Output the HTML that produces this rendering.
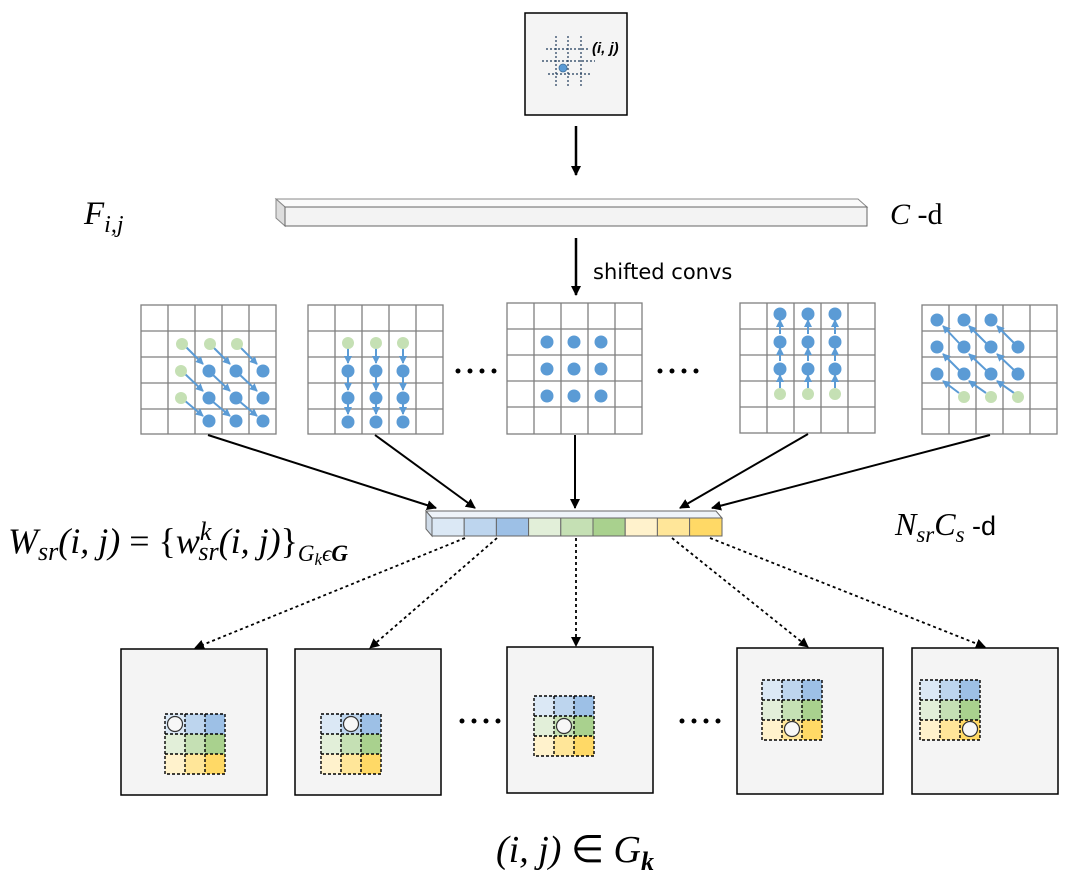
<!DOCTYPE html>
<html><head><meta charset="utf-8"><style>
html,body{margin:0;padding:0;background:#fff;}
svg{display:block;}
.m{font-family:"Liberation Serif",serif;font-style:italic;}
</style></head><body>
<svg width="1077" height="881" viewBox="0 0 1077 881" xmlns="http://www.w3.org/2000/svg">
<defs>
<marker id="ah" markerWidth="10" markerHeight="10" refX="9" refY="5" orient="auto" markerUnits="userSpaceOnUse"><path d="M0,0 L10,5 L0,10 z" fill="#000"/></marker>
<marker id="bh" markerWidth="8" markerHeight="8" refX="7" refY="4" orient="auto" markerUnits="userSpaceOnUse"><path d="M0,0 L8,4 L0,8 z" fill="#5b9bd5"/></marker>
</defs>

<!-- top box -->
<rect x="525" y="13" width="102" height="102" fill="#f4f4f4" stroke="#000" stroke-width="1.5"/>
<g stroke="#1f3b5a" stroke-width="1.2" stroke-dasharray="2,2">
<line x1="546" y1="49" x2="588" y2="49"/><line x1="542" y1="61" x2="595" y2="61"/><line x1="548" y1="74" x2="590" y2="74"/>
<line x1="556" y1="36" x2="556" y2="87"/><line x1="568" y1="36" x2="568" y2="87"/><line x1="581" y1="36" x2="581" y2="87"/>
</g>
<circle cx="563" cy="68" r="4" fill="#5b9bd5" stroke="#41719c" stroke-width="0.8"/>
<text x="592" y="53" font-family="Liberation Sans,sans-serif" font-weight="bold" font-style="italic" font-size="15">(i, j)</text>
<line x1="576" y1="126" x2="576" y2="175" stroke="#000" stroke-width="2.5" marker-end="url(#ah)"/>

<!-- feature bar -->
<polygon points="276,199 858,199 867,207 285,207" fill="#fafafa" stroke="#888" stroke-width="1"/>
<polygon points="276,199 285,207 285,226 276,218" fill="#ddd" stroke="#888" stroke-width="1"/>
<rect x="285" y="207" width="582" height="19" fill="#f3f3f3" stroke="#666" stroke-width="1"/>
<text x="84" y="224" class="m" font-size="33">F<tspan font-size="24" dy="8">i,j</tspan></text>
<text x="890" y="224" font-family="Liberation Serif,serif" font-size="30"><tspan font-style="italic">C</tspan> -d</text>

<line x1="576" y1="238" x2="576" y2="295" stroke="#000" stroke-width="2.5" marker-end="url(#ah)"/>
<text x="593" y="279" font-family="DejaVu Sans,Liberation Sans,sans-serif" font-size="21">shifted convs</text>

<!-- grids -->
<g stroke="#7f7f7f" stroke-width="1.3" fill="none">
<rect x="141" y="305" width="135" height="129" fill="#fff"/>
<path d="M168,305V434M195,305V434M222,305V434M249,305V434M141,331H276M141,357H276M141,383H276M141,409H276"/>
<rect x="308" y="305" width="135" height="129" fill="#fff"/>
<path d="M335,305V434M362,305V434M389,305V434M416,305V434M308,331H443M308,357H443M308,383H443M308,409H443"/>
<rect x="507" y="303" width="135" height="131" fill="#fff"/>
<path d="M534,303V434M561,303V434M588,303V434M615,303V434M507,329H642M507,355H642M507,381H642M507,407H642"/>
<rect x="740" y="303" width="135" height="130" fill="#fff"/>
<path d="M767,303V433M794,303V433M821,303V433M848,303V433M740,329H875M740,355H875M740,381H875M740,407H875"/>
<rect x="922" y="305" width="135" height="129" fill="#fff"/>
<path d="M949,305V434M976,305V434M1003,305V434M1030,305V434M922,331H1057M922,357H1057M922,383H1057M922,409H1057"/>
</g>

<g stroke="#5b9bd5" stroke-width="2" marker-end="url(#bh)">
<line x1="185" y1="346" x2="203" y2="364"/><line x1="212" y1="346" x2="230" y2="364"/><line x1="239" y1="346" x2="257" y2="364"/>
<line x1="184" y1="373" x2="203" y2="391"/><line x1="212" y1="374" x2="230" y2="391"/><line x1="239" y1="374" x2="257" y2="391"/>
<line x1="184" y1="400" x2="203" y2="416"/><line x1="212" y1="401" x2="230" y2="416"/><line x1="239" y1="401" x2="257" y2="416"/>
</g>
<g fill="#c5e0b4"><circle cx="182" cy="344" r="6"/><circle cx="210" cy="344" r="6"/><circle cx="237" cy="344" r="6"/><circle cx="181" cy="371" r="6"/><circle cx="181" cy="398" r="6"/></g>
<g fill="#5b9bd5"><circle cx="209" cy="371" r="6.5"/><circle cx="236" cy="371" r="6.5"/><circle cx="263" cy="371" r="6.5"/><circle cx="209" cy="398" r="6.5"/><circle cx="236" cy="398" r="6.5"/><circle cx="263" cy="398" r="6.5"/><circle cx="209" cy="421" r="6.5"/><circle cx="236" cy="421" r="6.5"/><circle cx="263" cy="421" r="6.5"/></g>

<g stroke="#5b9bd5" stroke-width="2" marker-end="url(#bh)">
<line x1="348" y1="348" x2="348" y2="363"/><line x1="376" y1="348" x2="376" y2="363"/><line x1="403" y1="348" x2="403" y2="363"/>
<line x1="348" y1="376" x2="348" y2="390"/><line x1="376" y1="376" x2="376" y2="390"/><line x1="403" y1="376" x2="403" y2="390"/>
<line x1="348" y1="403" x2="348" y2="414"/><line x1="376" y1="403" x2="376" y2="414"/><line x1="403" y1="403" x2="403" y2="414"/>
</g>
<g fill="#c5e0b4"><circle cx="348" cy="343" r="6"/><circle cx="376" cy="343" r="6"/><circle cx="403" cy="343" r="6"/></g>
<g fill="#5b9bd5"><circle cx="348" cy="371" r="6.5"/><circle cx="376" cy="371" r="6.5"/><circle cx="403" cy="371" r="6.5"/><circle cx="348" cy="398" r="6.5"/><circle cx="376" cy="398" r="6.5"/><circle cx="403" cy="398" r="6.5"/><circle cx="348" cy="422" r="6.5"/><circle cx="376" cy="422" r="6.5"/><circle cx="403" cy="422" r="6.5"/></g>

<g fill="#5b9bd5"><circle cx="547" cy="342" r="6.5"/><circle cx="574" cy="342" r="6.5"/><circle cx="601" cy="342" r="6.5"/><circle cx="547" cy="369" r="6.5"/><circle cx="574" cy="369" r="6.5"/><circle cx="601" cy="369" r="6.5"/><circle cx="547" cy="396" r="6.5"/><circle cx="574" cy="396" r="6.5"/><circle cx="601" cy="396" r="6.5"/></g>

<g stroke="#5b9bd5" stroke-width="2" marker-end="url(#bh)">
<line x1="780" y1="388" x2="780" y2="375"/><line x1="808" y1="388" x2="808" y2="375"/><line x1="835" y1="388" x2="835" y2="375"/>
<line x1="780" y1="361" x2="780" y2="348"/><line x1="808" y1="361" x2="808" y2="348"/><line x1="835" y1="361" x2="835" y2="348"/>
<line x1="780" y1="334" x2="780" y2="320"/><line x1="808" y1="334" x2="808" y2="320"/><line x1="835" y1="334" x2="835" y2="320"/>
</g>
<g fill="#c5e0b4"><circle cx="780" cy="394" r="6"/><circle cx="808" cy="394" r="6"/><circle cx="835" cy="394" r="6"/></g>
<g fill="#5b9bd5"><circle cx="780" cy="314" r="6.5"/><circle cx="808" cy="314" r="6.5"/><circle cx="835" cy="314" r="6.5"/><circle cx="780" cy="342" r="6.5"/><circle cx="808" cy="342" r="6.5"/><circle cx="835" cy="342" r="6.5"/><circle cx="780" cy="369" r="6.5"/><circle cx="808" cy="369" r="6.5"/><circle cx="835" cy="369" r="6.5"/></g>

<g stroke="#5b9bd5" stroke-width="2" marker-end="url(#bh)">
<line x1="959" y1="343" x2="943" y2="326"/><line x1="986" y1="343" x2="969" y2="326"/><line x1="1014" y1="343" x2="997" y2="326"/>
<line x1="959" y1="370" x2="943" y2="354"/><line x1="986" y1="370" x2="969" y2="354"/><line x1="1014" y1="370" x2="997" y2="354"/>
<line x1="959" y1="393" x2="943" y2="381"/><line x1="986" y1="393" x2="969" y2="381"/><line x1="1014" y1="393" x2="997" y2="381"/>
</g>
<g fill="#5b9bd5"><circle cx="937" cy="320" r="6.5"/><circle cx="964" cy="320" r="6.5"/><circle cx="991" cy="320" r="6.5"/>
<circle cx="937" cy="347" r="6.5"/><circle cx="964" cy="347" r="6.5"/><circle cx="991" cy="347" r="6.5"/><circle cx="1018" cy="347" r="6.5"/>
<circle cx="937" cy="374" r="6.5"/><circle cx="964" cy="374" r="6.5"/><circle cx="991" cy="374" r="6.5"/><circle cx="1018" cy="374" r="6.5"/></g>
<g fill="#c5e0b4"><circle cx="964" cy="397" r="6"/><circle cx="991" cy="397" r="6"/><circle cx="1018" cy="397" r="6"/></g>

<g fill="#000">
<circle cx="458" cy="371" r="2.5"/><circle cx="470" cy="371" r="2.5"/><circle cx="482" cy="371" r="2.5"/><circle cx="494" cy="371" r="2.5"/>
<circle cx="660" cy="371" r="2.5"/><circle cx="672" cy="371" r="2.5"/><circle cx="684" cy="371" r="2.5"/><circle cx="696" cy="371" r="2.5"/>
<circle cx="462" cy="721" r="2.5"/><circle cx="474" cy="721" r="2.5"/><circle cx="486" cy="721" r="2.5"/><circle cx="498" cy="721" r="2.5"/>
<circle cx="682" cy="721" r="2.5"/><circle cx="694" cy="721" r="2.5"/><circle cx="706" cy="721" r="2.5"/><circle cx="718" cy="721" r="2.5"/>
</g>

<g stroke="#000" stroke-width="2" marker-end="url(#ah)">
<line x1="208" y1="435" x2="436" y2="508"/>
<line x1="375" y1="435" x2="475" y2="508"/>
<line x1="575" y1="435" x2="575" y2="508"/>
<line x1="808" y1="434" x2="680" y2="508"/>
<line x1="990" y1="435" x2="712" y2="508"/>
</g>

<polygon points="426,511 716,511 722,518 432,518" fill="#eef3f9" stroke="#666" stroke-width="1"/>
<polygon points="426,511 432,518 432,536 426,529" fill="#cfdbe8" stroke="#666" stroke-width="1"/>
<g stroke="#666" stroke-width="1">
<rect x="432" y="518" width="32.2" height="18" fill="#dbe8f5"/>
<rect x="464.2" y="518" width="32.2" height="18" fill="#bdd5ee"/>
<rect x="496.4" y="518" width="32.2" height="18" fill="#9dc0e6"/>
<rect x="528.6" y="518" width="32.2" height="18" fill="#e2efd9"/>
<rect x="560.8" y="518" width="32.2" height="18" fill="#c5e0b4"/>
<rect x="593" y="518" width="32.2" height="18" fill="#a9d18e"/>
<rect x="625.2" y="518" width="32.2" height="18" fill="#fff2cc"/>
<rect x="657.4" y="518" width="32.2" height="18" fill="#ffe699"/>
<rect x="689.6" y="518" width="32.4" height="18" fill="#ffd966"/>
</g>
<text x="8" y="553" class="m" font-size="36">W<tspan font-size="26" dy="7">sr</tspan><tspan dy="-7">(i, j) </tspan><tspan font-style="normal">= {</tspan>w<tspan font-size="26" dy="-13">k</tspan><tspan font-size="26" dx="-13" dy="20">sr</tspan><tspan dy="-7">(i, j)</tspan><tspan font-style="normal">}</tspan><tspan font-size="23" dy="8">G<tspan font-size="17" dy="4">k</tspan><tspan dy="-4">ϵ</tspan><tspan font-weight="bold">G</tspan></tspan></text>
<text x="895" y="535" class="m" font-size="32">N<tspan font-size="23" dy="7">sr</tspan><tspan dy="-7">C</tspan><tspan font-size="23" dy="7">s</tspan><tspan dy="-7" font-style="normal" font-family="Liberation Sans,sans-serif" font-size="27"> -d</tspan></text>

<g stroke="#000" stroke-width="1.8" stroke-dasharray="3,3" marker-end="url(#ah)">
<line x1="465" y1="538" x2="195" y2="648"/>
<line x1="497" y1="538" x2="370" y2="648"/>
<line x1="576" y1="538" x2="576" y2="646"/>
<line x1="672" y1="538" x2="808" y2="647"/>
<line x1="710" y1="538" x2="985" y2="647"/>
</g>

<g fill="#f4f4f4" stroke="#000" stroke-width="1.5">
<rect x="121" y="649" width="146" height="146"/>
<rect x="295" y="649" width="146" height="146"/>
<rect x="507" y="647" width="146" height="146"/>
<rect x="737" y="648" width="146" height="146"/>
<rect x="912" y="648" width="146" height="146"/>
</g>
<defs>
<g id="mini">
<rect x="0" y="0" width="20" height="20" fill="#dbe8f5"/><rect x="20" y="0" width="20" height="20" fill="#bdd5ee"/><rect x="40" y="0" width="20" height="20" fill="#9dc0e6"/>
<rect x="0" y="20" width="20" height="20" fill="#e2efd9"/><rect x="20" y="20" width="20" height="20" fill="#c5e0b4"/><rect x="40" y="20" width="20" height="20" fill="#a9d18e"/>
<rect x="0" y="40" width="20" height="20" fill="#fff2cc"/><rect x="20" y="40" width="20" height="20" fill="#ffe699"/><rect x="40" y="40" width="20" height="20" fill="#ffd966"/>
<path d="M0,0H60V60H0Z M20,0V60 M40,0V60 M0,20H60 M0,40H60" fill="none" stroke="#000" stroke-width="1.4" stroke-dasharray="3,2"/>
</g>
</defs>
<use href="#mini" x="165" y="714"/>
<use href="#mini" x="321" y="714"/>
<use href="#mini" x="534" y="696"/>
<use href="#mini" x="762" y="680"/>
<use href="#mini" x="920" y="680"/>
<g fill="#f7f7f7" stroke="#333" stroke-width="1.2">
<circle cx="175" cy="724" r="7.5"/>
<circle cx="351" cy="724" r="7.5"/>
<circle cx="564" cy="726" r="7.5"/>
<circle cx="792" cy="729" r="7.5"/>
<circle cx="970" cy="729" r="7.5"/>
</g>

<text x="575" y="862" text-anchor="middle" class="m" font-size="38">(i, j) <tspan font-style="normal">∈</tspan> G<tspan font-size="26" dy="8" font-weight="bold">k</tspan></text>
</svg>
</body></html>
